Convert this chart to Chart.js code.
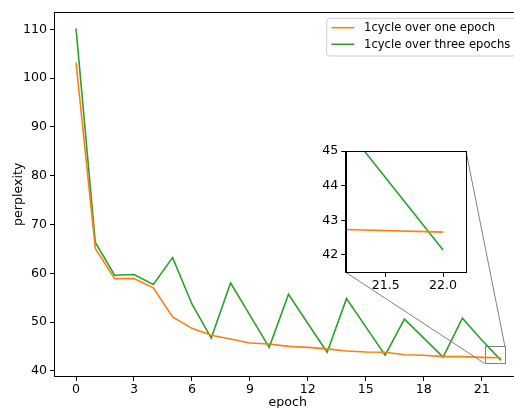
<!DOCTYPE html>
<html><head><meta charset="utf-8">
<script src="https://cdn.jsdelivr.net/npm/chart.js@4/dist/chart.umd.min.js"></script>
<style>html,body{margin:0;padding:0;background:#fff;overflow:hidden}
#wrap{position:relative;width:514px;height:408px}
canvas{position:absolute;left:0;top:0}</style></head>
<body><div id="wrap"><canvas id="main" width="514" height="408"></canvas><canvas id="inset" width="514" height="408"></canvas></div>
<script>
const epochs = [0,1,2,3,4,5,6,7,8,9,10,11,12,13,14,15,16,17,18,19,20,21,22];
const oneEpoch = [103.2,65.1,58.9,58.9,57.0,51.05,48.7,47.3,46.5,45.7,45.5,45.0,44.8,44.5,44.05,43.85,43.8,43.3,43.2,42.9,42.9,42.75,42.66];
const threeEpochs = [110.2,66.3,59.6,59.75,57.7,63.2,53.7,46.7,58.0,51.4,44.8,55.7,49.7,43.8,54.8,49.0,43.2,50.6,46.7,42.8,50.8,46.3,42.14];
const seriesLabels = ['1cycle over one epoch','1cycle over three epochs'];
const xTickValues = [0,3,6,9,12,15,18,21];
const yTickValues = [40,50,60,70,80,90,100,110];
const insetXTicks = [21.5,22.0];
const insetYTicks = [42,43,44,45];
const xTitle = 'epoch';
const yTitle = 'perplexity';

const FONT = '"DejaVu Sans", sans-serif';
const FS = 12.6;      // ticks and axis titles
const LFS = 11.6;     // legend
const ORANGE = '#ff7f0e', GREEN = '#2ca02c';
const ZOOM = {x0:21.15, x1:22.2, y0:41.5, y1:45};
Chart.defaults.font.family = FONT;
Chart.defaults.font.size = FS;
Chart.defaults.color = '#000';

function ds(label, vals, color){
  return {label, data: epochs.map((e,i)=>({x:e,y:vals[i]})), borderColor:color, backgroundColor:color,
    borderWidth:1.6, pointRadius:0, tension:0, fill:false, clip:0};
}
function axisOpts(extra){
  return Object.assign({
    type:'linear',
    grid:{display:true, drawOnChartArea:false, drawTicks:true, tickLength:4.5, color:'#000', lineWidth:1},
    border:{display:true, color:'#000', width:1},
  }, extra);
}

const mainDeco = {
  id:'mainDeco',
  beforeDatasetsDraw(chart){
    const {ctx, scales:{x,y}} = chart;
    const l = Math.round(x.getPixelForValue(ZOOM.x0))+0.5, r = Math.round(x.getPixelForValue(ZOOM.x1))+0.5;
    const t = Math.round(y.getPixelForValue(ZOOM.y1))+0.5, b = Math.round(y.getPixelForValue(ZOOM.y0))+0.5;
    ctx.save(); ctx.strokeStyle='#808080'; ctx.lineWidth=1; ctx.strokeRect(l,t,r-l,b-t); ctx.restore();
  },
  afterDraw(chart){
    const {ctx, chartArea:a} = chart;
    ctx.save();
    ctx.strokeStyle='#000'; ctx.lineWidth=1;
    ctx.beginPath(); ctx.moveTo(a.left, Math.round(a.top)+0.5); ctx.lineTo(a.right, Math.round(a.top)+0.5); ctx.stroke();
    ctx.fillStyle='#000'; ctx.font = FS+'px '+FONT;
    ctx.textAlign='center'; ctx.textBaseline='alphabetic';
    ctx.fillText(xTitle, (a.left+521)/2, 406);
    ctx.save(); ctx.translate(21.5, (a.top+a.bottom)/2); ctx.rotate(-Math.PI/2);
    ctx.fillText(yTitle, 0, 0); ctx.restore();
    // legend
    const lx=326.7, ly=18.3, lw=189, lh=37.7, rad=3;
    ctx.beginPath();
    ctx.moveTo(lx+rad,ly); ctx.lineTo(lx+lw-rad,ly); ctx.quadraticCurveTo(lx+lw,ly,lx+lw,ly+rad);
    ctx.lineTo(lx+lw,ly+lh-rad); ctx.quadraticCurveTo(lx+lw,ly+lh,lx+lw-rad,ly+lh);
    ctx.lineTo(lx+rad,ly+lh); ctx.quadraticCurveTo(lx,ly+lh,lx,ly+lh-rad);
    ctx.lineTo(lx,ly+rad); ctx.quadraticCurveTo(lx,ly,lx+rad,ly); ctx.closePath();
    ctx.fillStyle='rgba(255,255,255,0.8)'; ctx.fill();
    ctx.strokeStyle='#cccccc'; ctx.lineWidth=1; ctx.stroke();
    const rows=[27.7,44.3], cols=[ORANGE,GREEN];
    ctx.font = LFS+'px '+FONT;
    ctx.textAlign='left'; ctx.textBaseline='middle';
    rows.forEach((ry,i)=>{
      ctx.strokeStyle=cols[i]; ctx.lineWidth=1.6;
      ctx.beginPath(); ctx.moveTo(331.3,ry); ctx.lineTo(354.3,ry); ctx.stroke();
      ctx.fillStyle='#000'; ctx.fillText(chart.data.datasets[i].label, 364, ry+0.5);
    });
    ctx.restore();
  }
};

const mainChart = new Chart(document.getElementById('main'), {
  type:'line',
  data:{datasets:[ds(seriesLabels[0], oneEpoch, ORANGE), ds(seriesLabels[1], threeEpochs, GREEN)]},
  options:{
    responsive:false, animation:false, devicePixelRatio:1,
    layout:{padding:{left:0, top:12, right:0, bottom:0}},
    plugins:{legend:{display:false}, tooltip:{enabled:false}},
    scales:{
      x: axisOpts({min:-1.113, max:22.67,
        afterFit(s){ s.height = 31.5; },
        afterBuildTicks(s){ s.ticks = xTickValues.map(v=>({value:v})); },
        ticks:{padding:1, autoSkip:false, maxRotation:0, callback:v=>String(v)}}),
      y: axisOpts({min:38.83, max:113.56,
        afterFit(s){ s.width = 54.5; },
        afterBuildTicks(s){ s.ticks = yTickValues.map(v=>({value:v})); },
        ticks:{padding:3, autoSkip:false, callback:v=>String(v)}})
    }
  },
  plugins:[mainDeco]
});

const insetDeco = {
  id:'insetDeco',
  beforeDraw(chart){
    const {ctx, chartArea:a} = chart;
    const mx = mainChart.scales.x, my = mainChart.scales.y;
    ctx.save();
    ctx.fillStyle='#fff'; ctx.fillRect(a.left, a.top, a.right-a.left, a.bottom-a.top);
    ctx.strokeStyle='#808080'; ctx.lineWidth=1;
    ctx.beginPath();
    ctx.moveTo(a.left, a.bottom); ctx.lineTo(mx.getPixelForValue(ZOOM.x0), my.getPixelForValue(ZOOM.y0));
    ctx.moveTo(a.right, a.top); ctx.lineTo(mx.getPixelForValue(ZOOM.x1), my.getPixelForValue(ZOOM.y1));
    ctx.stroke();
    ctx.restore();
  },
  afterDraw(chart){
    const {ctx, chartArea:a} = chart;
    ctx.save(); ctx.strokeStyle='#000'; ctx.lineWidth=1;
    const l=Math.round(a.left)+0.5, t=Math.round(a.top)+0.5, r=Math.round(a.right)+0.5, b=Math.round(a.bottom)+0.5;
    ctx.strokeRect(l,t,r-l,b-t); ctx.restore();
  }
};

new Chart(document.getElementById('inset'), {
  type:'line',
  data:{datasets:[ds(seriesLabels[0], oneEpoch, ORANGE), ds(seriesLabels[1], threeEpochs, GREEN)]},
  options:{
    responsive:false, animation:false, devicePixelRatio:1,
    layout:{padding:{left:315.7, top:151, right:48, bottom:110.7}},
    plugins:{legend:{display:false}, tooltip:{enabled:false}},
    scales:{
      x: axisOpts({min:ZOOM.x0, max:ZOOM.x1,
        afterFit(s){ s.height = 25; },
        afterBuildTicks(s){ s.ticks = insetXTicks.map(v=>({value:v})); },
        ticks:{padding:1, autoSkip:false, maxRotation:0, callback:v=>Number(v).toFixed(1)}}),
      y: axisOpts({min:ZOOM.y0, max:ZOOM.y1,
        afterFit(s){ s.width = 30; },
        afterBuildTicks(s){ s.ticks = insetYTicks.map(v=>({value:v})); },
        ticks:{padding:3, autoSkip:false, callback:v=>String(v)}})
    }
  },
  plugins:[insetDeco]
});
</script></body></html>
